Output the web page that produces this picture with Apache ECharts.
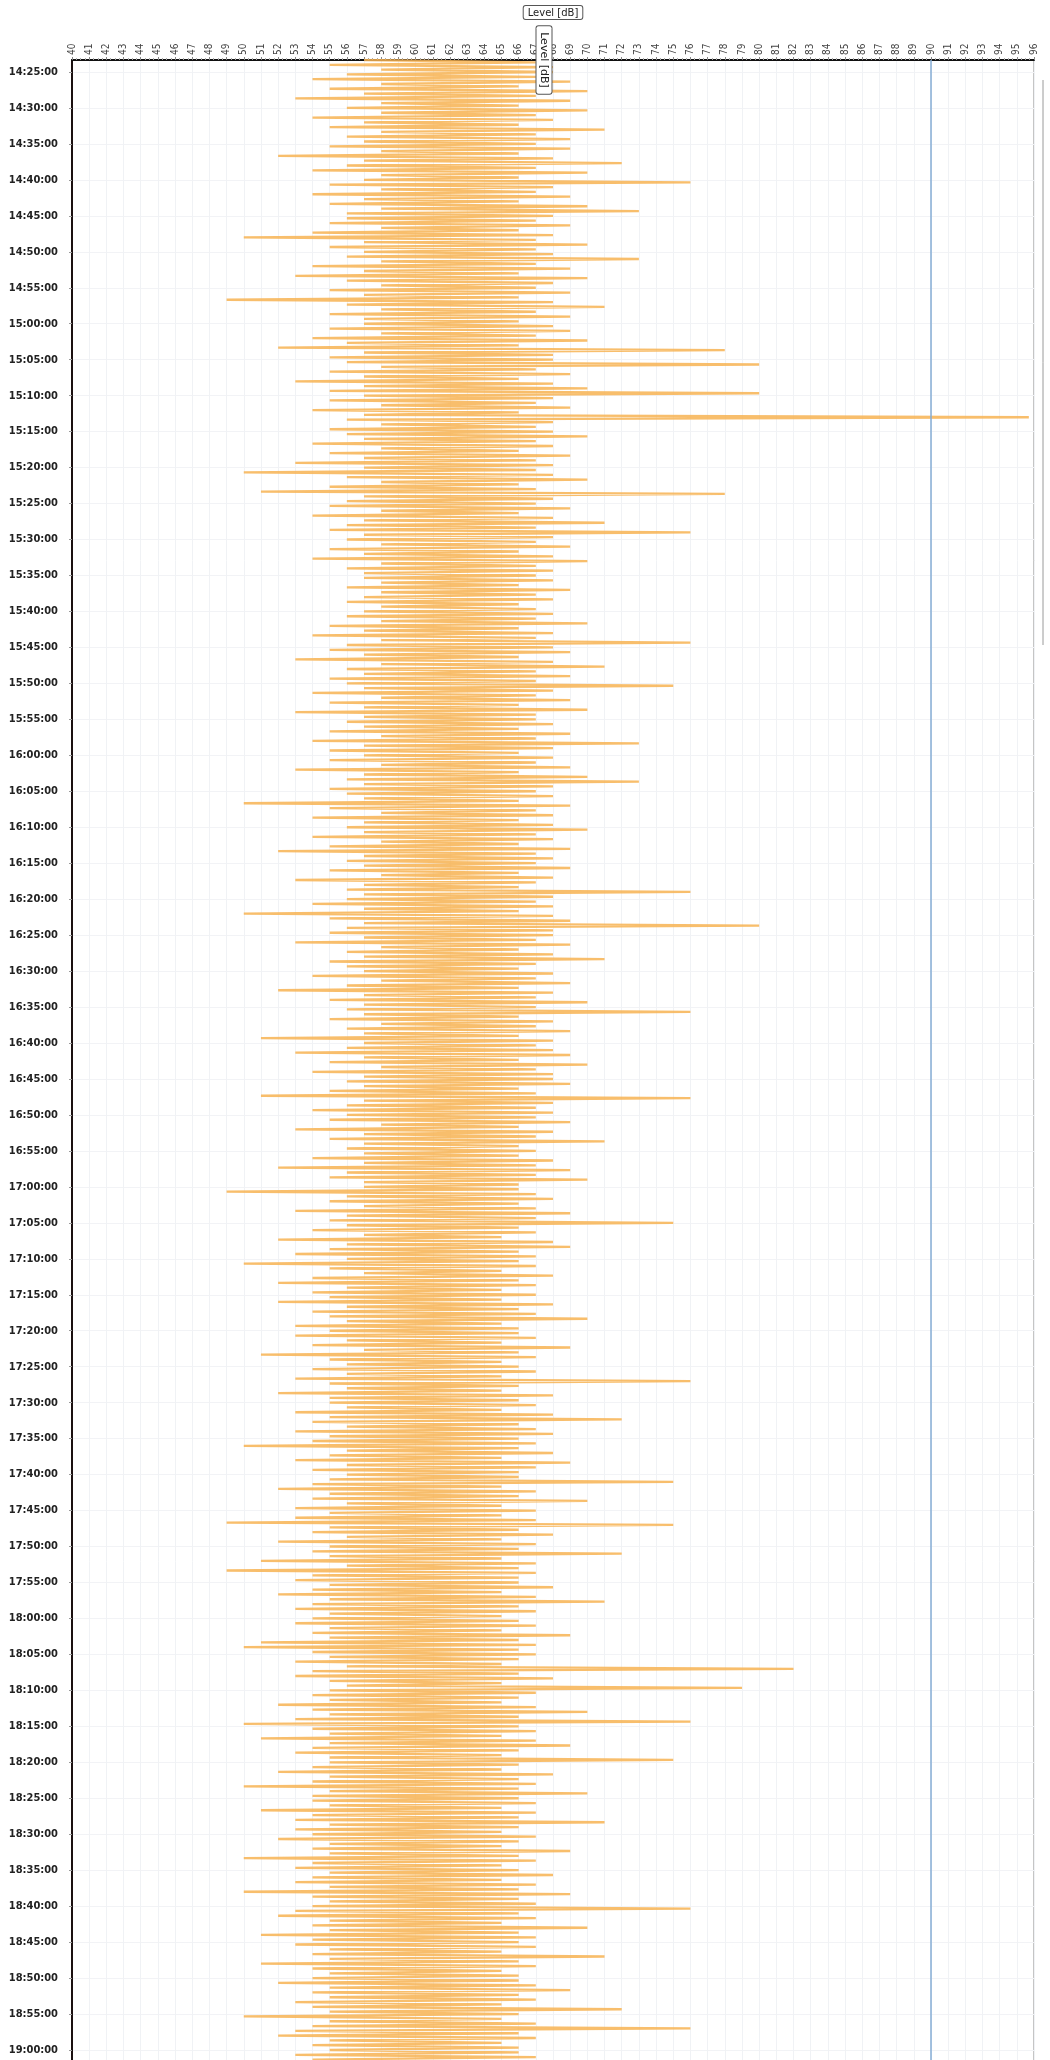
<!DOCTYPE html>
<html>
<head>
<meta charset="utf-8">
<script src="https://cdn.jsdelivr.net/npm/echarts@6/dist/echarts.min.js"></script>
<style>
html, body { margin: 0; padding: 0; background: #fff; overflow: hidden; }
#chart { width: 1050px; height: 2062px; }
</style>
</head>
<body>
<div id="chart"></div>
<script>
var chart = echarts.init(document.getElementById('chart'));

// time axis: first sample 14:23:20, one sample every 20 s
var startTime = [14, 23, 20];
var stepSec = 20;
// labelled ticks on the time axis
var timeTicks = ['14:25:00','14:30:00','14:35:00','14:40:00','14:45:00','14:50:00','14:55:00',
  '15:00:00','15:05:00','15:10:00','15:15:00','15:20:00','15:25:00','15:30:00','15:35:00','15:40:00','15:45:00','15:50:00','15:55:00',
  '16:00:00','16:05:00','16:10:00','16:15:00','16:20:00','16:25:00','16:30:00','16:35:00','16:40:00','16:45:00','16:50:00','16:55:00',
  '17:00:00','17:05:00','17:10:00','17:15:00','17:20:00','17:25:00','17:30:00','17:35:00','17:40:00','17:45:00','17:50:00','17:55:00',
  '18:00:00','18:05:00','18:10:00','18:15:00','18:20:00','18:25:00','18:30:00','18:35:00','18:40:00','18:45:00','18:50:00','18:55:00',
  '19:00:00'];
var limitLevel = 90; // blue limit line, dB

// Level [dB] (one row = 5 minutes)
var levelHead = [57,67,55,68,58]; // 14:23:20 - 14:24:40
var level1425 = [68,56,67,54,69,58,66,55,70,57,67,53,69,58,66];
var level1430 = [56,70,58,67,54,68,57,66,55,71,58,67,56,69,57];
var level1435 = [67,55,69,58,66,52,68,57,72,56,67,54,70,58,66];
var level1440 = [57,76,55,68,58,67,54,69,57,66,55,70,58,73,56];
var level1445 = [68,56,67,55,69,58,66,54,68,50,67,57,70,55,67];
var level1450 = [57,68,56,73,58,67,54,69,57,66,53,70,56,68,58];
var level1455 = [67,55,69,57,66,49,68,56,71,58,67,55,69,57,66];
var level1500 = [57,68,55,69,58,67,54,70,56,66,52,78,57,68,55];
var level1505 = [68,56,80,58,67,55,69,57,66,53,68,57,70,55,80];
var level1510 = [57,68,55,67,58,69,54,66,57,95.7,56,68,58,67,55];
var level1515 = [68,56,70,57,67,54,68,58,66,55,69,57,67,53,68];
var level1520 = [57,67,50,68,56,70,58,66,55,67,51,78,57,68,56];
var level1525 = [67,55,69,58,66,54,68,57,71,56,67,55,76,57,68];
var level1530 = [56,67,58,69,55,66,57,68,54,70,58,67,56,68,57];
var level1535 = [67,57,68,58,66,56,69,58,67,57,68,56,66,58,67];
var level1540 = [57,68,56,67,58,70,55,66,57,68,54,67,58,76,56];
var level1545 = [68,55,69,57,66,53,68,58,71,56,67,57,69,55,67];
var level1550 = [56,75,57,68,54,67,58,69,55,66,57,70,53,67,57];
var level1555 = [67,56,68,57,66,55,69,58,67,54,73,57,68,55,66];
var level1600 = [57,68,55,67,58,69,53,66,57,70,56,73,57,68,55];
var level1605 = [67,56,68,57,66,50,69,55,67,58,68,54,66,57,68];
var level1610 = [56,70,57,67,54,68,58,66,55,69,52,67,57,68,56];
var level1615 = [67,57,69,55,66,58,68,53,67,57,66,56,76,57,68];
var level1620 = [56,67,54,68,57,66,50,68,55,69,57,80,56,68,55];
var level1625 = [68,57,67,53,69,58,66,56,68,57,71,55,67,56,66];
var level1630 = [57,68,54,67,58,69,56,66,52,68,57,67,55,70,57];
var level1635 = [67,56,76,57,66,55,68,58,67,56,69,57,66,51,68];
var level1640 = [57,67,56,68,53,69,57,66,55,70,58,67,54,68,57];
var level1645 = [68,56,69,57,66,55,67,51,76,57,68,56,67,54,68];
var level1650 = [56,67,55,69,58,66,53,68,57,67,55,71,57,66,56];
var level1655 = [67,57,66,54,68,57,67,52,69,56,67,55,70,57,66];
var level1700 = [57,66,49,67,56,68,55,66,57,67,53,69,56,67,55];
var level1705 = [75,56,66,54,67,57,65,52,68,56,69,55,66,53,67];
var level1710 = [56,66,50,67,55,65,57,68,54,66,52,67,56,65,54];
var level1715 = [67,55,65,52,68,56,66,54,67,55,70,56,65,53,66];
var level1720 = [55,66,53,67,56,65,54,69,57,66,51,67,55,65,56];
var level1725 = [66,54,67,56,65,53,76,55,66,56,65,52,68,55,66];
var level1730 = [55,67,56,65,53,68,55,72,54,66,56,67,53,68,55];
var level1735 = [66,54,67,50,66,56,68,55,65,53,69,56,67,54,66];
var level1740 = [56,66,55,75,54,65,52,67,55,66,54,70,56,65,53];
var level1745 = [67,55,65,53,67,49,75,55,66,54,68,56,65,52,67];
var level1750 = [55,66,54,72,55,65,51,67,56,66,49,67,54,66,53];
var level1755 = [66,55,68,54,65,52,67,55,71,54,66,53,67,55,65];
var level1800 = [54,66,53,67,55,65,54,69,55,66,51,67,50,66,54];
var level1805 = [67,55,66,53,65,56,82,54,66,53,68,55,65,56,79];
var level1810 = [55,67,54,66,55,65,52,67,54,70,55,66,53,76,50];
var level1815 = [66,54,67,55,65,51,67,55,69,54,66,53,65,55,75];
var level1820 = [55,66,54,65,52,68,55,66,54,67,50,66,55,70,54];
var level1825 = [66,54,67,55,65,51,67,54,66,53,71,55,66,53,65];
var level1830 = [54,67,52,66,55,65,54,69,55,66,50,67,54,65,53];
var level1835 = [66,55,68,54,65,53,67,55,66,50,69,54,66,55,67];
var level1840 = [54,76,53,66,52,67,55,65,54,70,55,66,51,67,54];
var level1845 = [66,53,67,55,65,54,71,55,66,51,67,54,65,55,66];
var level1850 = [54,66,52,67,55,69,54,66,55,67,53,65,54,72,55];
var level1855 = [66,50,65,55,67,54,76,53,66,52,67,55,65,54,66];
var levelTail = [55,66,53,67,54,65]; // 19:00:00 - 19:01:40

var levels = [].concat(levelHead,
  level1425, level1430, level1435, level1440, level1445, level1450, level1455,
  level1500, level1505, level1510, level1515, level1520, level1525, level1530, level1535,
  level1540, level1545, level1550, level1555,
  level1600, level1605, level1610, level1615, level1620, level1625, level1630, level1635,
  level1640, level1645, level1650, level1655,
  level1700, level1705, level1710, level1715, level1720, level1725, level1730, level1735,
  level1740, level1745, level1750, level1755,
  level1800, level1805, level1810, level1815, level1820, level1825, level1830, level1835,
  level1840, level1845, level1850, level1855,
  levelTail);

function pad(n) { return (n < 10 ? '0' : '') + n; }
var times = [];
var t0 = startTime[0] * 3600 + startTime[1] * 60 + startTime[2];
for (var i = 0; i < levels.length; i++) {
  var s = t0 + i * stepSec;
  times.push(pad(Math.floor(s / 3600)) + ':' + pad(Math.floor(s / 60) % 60) + ':' + pad(s % 60));
}
var seriesData = [];
for (var j = 0; j < levels.length; j++) {
  seriesData.push([levels[j], times[j]]);
}

function isTick(idx, val) { return timeTicks.indexOf(val) !== -1; }

var option = {
  animation: false,
  backgroundColor: '#fff',
  grid: {
    left: 72, right: 16, top: 58, bottom: 0,
    show: true, borderColor: '#8a8a8a', borderWidth: 1
  },
  xAxis: {
    type: 'value',
    position: 'top',
    min: 40, max: 96, interval: 1,
    name: 'Level [dB]',
    nameLocation: 'middle',
    nameGap: 41,
    nameTextStyle: {
      fontSize: 10, color: '#222', fontFamily: 'DejaVu Sans',
      backgroundColor: '#fff', borderColor: '#555', borderWidth: 1,
      borderRadius: 2, padding: [2, 4, 1, 4]
    },
    axisLine: { show: true, lineStyle: { color: '#111', width: 2 } },
    axisTick: { show: true, length: 3, lineStyle: { color: '#888' } },
    minorTick: { show: true, splitNumber: 4, length: 2, lineStyle: { color: '#aaa' } },
    axisLabel: {
      rotate: -90, fontSize: 10, color: '#444', margin: 5,
      fontFamily: 'Liberation Sans Narrow, DejaVu Sans Condensed, sans-serif'
    },
    splitLine: { show: true, lineStyle: { color: '#f0f2f5', width: 1 } }
  },
  yAxis: {
    type: 'category',
    inverse: true,
    boundaryGap: false,
    data: times,
    axisLine: { show: true, lineStyle: { color: '#1a1010', width: 2 } },
    axisTick: { show: true, interval: isTick, length: 3, lineStyle: { color: '#999' } },
    axisLabel: {
      interval: isTick, fontSize: 11, fontWeight: 'bold', color: '#222', margin: 14,
      fontFamily: 'Liberation Sans Narrow, DejaVu Sans Condensed, sans-serif'
    },
    splitLine: { show: true, interval: isTick, lineStyle: { color: '#f2f3f6', width: 1 } }
  },
  series: [{
    name: 'Level',
    type: 'line',
    data: seriesData,
    showSymbol: false,
    sampling: null,
    lineStyle: { color: '#f7b352', width: 2.3, opacity: 0.85 },
    markLine: {
      silent: true,
      symbol: 'none',
      label: { show: false },
      lineStyle: { color: '#86acd4', width: 1.5, type: 'solid' },
      data: [{ xAxis: limitLevel }]
    }
  }],
  graphic: [
    {
      type: 'text', x: 544, y: 60, rotation: -Math.PI / 2, z: 100,
      style: {
        text: 'Level [dB]', fontSize: 11, fill: '#222', fontFamily: 'DejaVu Sans',
        align: 'center', verticalAlign: 'middle',
        backgroundColor: '#fff', borderColor: '#555', borderWidth: 1,
        borderRadius: 2, padding: [2, 6]
      }
    },
    {
      type: 'line', z: 100,
      shape: { x1: 1043, y1: 80, x2: 1043, y2: 645 },
      style: { stroke: '#9a9a9a', lineWidth: 1 }
    }
  ]
};
chart.setOption(option);
</script>
</body>
</html>
